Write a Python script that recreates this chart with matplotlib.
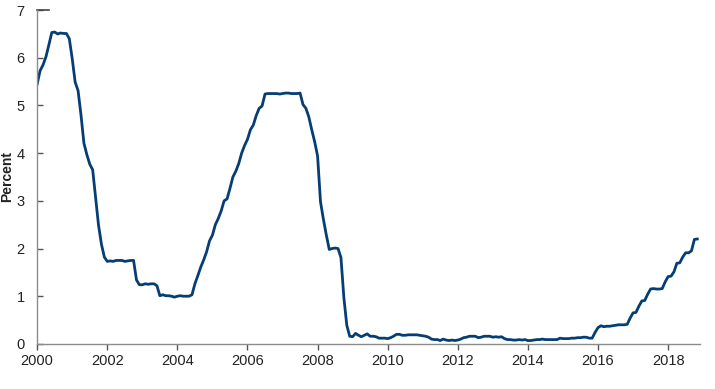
import numpy as np
import matplotlib.pyplot as plt

plt.rcParams['font.family'] = ['Liberation Sans', 'DejaVu Sans']

# Effective federal funds rate, monthly, Jan 2000 - Nov 2018 (percent)
rate_2000 = [5.45, 5.73, 5.85, 6.02, 6.27, 6.53, 6.54, 6.50, 6.52, 6.51, 6.51, 6.40]
rate_2001 = [5.98, 5.49, 5.31, 4.80, 4.21, 3.97, 3.77, 3.65, 3.07, 2.49, 2.09, 1.82]
rate_2002 = [1.73, 1.74, 1.73, 1.75, 1.75, 1.75, 1.73, 1.74, 1.75, 1.75, 1.34, 1.24]
rate_2003 = [1.24, 1.26, 1.25, 1.26, 1.26, 1.22, 1.01, 1.03, 1.01, 1.01, 1.00, 0.98]
rate_2004 = [1.00, 1.01, 1.00, 1.00, 1.00, 1.03, 1.26, 1.43, 1.61, 1.76, 1.93, 2.16]
rate_2005 = [2.28, 2.50, 2.63, 2.79, 3.00, 3.04, 3.26, 3.50, 3.62, 3.78, 4.00, 4.16]
rate_2006 = [4.29, 4.49, 4.59, 4.79, 4.94, 4.99, 5.24, 5.25, 5.25, 5.25, 5.25, 5.24]
rate_2007 = [5.25, 5.26, 5.26, 5.25, 5.25, 5.25, 5.26, 5.02, 4.94, 4.76, 4.49, 4.24]
rate_2008 = [3.94, 2.98, 2.61, 2.28, 1.98, 2.00, 2.01, 2.00, 1.81, 0.97, 0.39, 0.16]
rate_2009 = [0.15, 0.22, 0.18, 0.15, 0.18, 0.21, 0.16, 0.16, 0.15, 0.12, 0.12, 0.12]
rate_2010 = [0.11, 0.13, 0.16, 0.20, 0.20, 0.18, 0.18, 0.19, 0.19, 0.19, 0.19, 0.18]
rate_2011 = [0.17, 0.16, 0.14, 0.10, 0.09, 0.09, 0.07, 0.10, 0.08, 0.07, 0.08, 0.07]
rate_2012 = [0.08, 0.10, 0.13, 0.14, 0.16, 0.16, 0.16, 0.13, 0.14, 0.16, 0.16, 0.16]
rate_2013 = [0.14, 0.15, 0.14, 0.15, 0.11, 0.09, 0.09, 0.08, 0.08, 0.09, 0.08, 0.09]
rate_2014 = [0.07, 0.07, 0.08, 0.09, 0.09, 0.10, 0.09, 0.09, 0.09, 0.09, 0.09, 0.12]
rate_2015 = [0.11, 0.11, 0.11, 0.12, 0.12, 0.13, 0.13, 0.14, 0.14, 0.12, 0.12, 0.24]
rate_2016 = [0.34, 0.38, 0.36, 0.37, 0.37, 0.38, 0.39, 0.40, 0.40, 0.40, 0.41, 0.54]
rate_2017 = [0.65, 0.66, 0.79, 0.90, 0.91, 1.04, 1.15, 1.16, 1.15, 1.15, 1.16, 1.30]
rate_2018 = [1.41, 1.42, 1.51, 1.69, 1.70, 1.82, 1.91, 1.91, 1.95, 2.19, 2.20]

rates = (rate_2000 + rate_2001 + rate_2002 + rate_2003 + rate_2004 + rate_2005
         + rate_2006 + rate_2007 + rate_2008 + rate_2009 + rate_2010 + rate_2011
         + rate_2012 + rate_2013 + rate_2014 + rate_2015 + rate_2016 + rate_2017
         + rate_2018)
dates = 2000 + np.arange(len(rates)) / 12.0

x_ticks = [2000, 2002, 2004, 2006, 2008, 2010, 2012, 2014, 2016, 2018]
y_ticks = [0, 1, 2, 3, 4, 5, 6, 7]

fig = plt.figure(figsize=(7.15, 3.89), dpi=100)
ax = fig.add_axes([0.052, 0.116, 0.927, 0.858])

ax.plot(dates, rates, color='#053d75', linewidth=2.0, solid_joinstyle='round')

ax.set_xlim(2000, 2018.91)
ax.set_ylim(0, 7)
ax.set_xticks(x_ticks)
ax.set_yticks(y_ticks)

for side in ['top', 'right']:
    ax.spines[side].set_visible(False)
for side in ['left', 'bottom']:
    ax.spines[side].set_color('#8c8c8c')
    ax.spines[side].set_linewidth(1.0)

ax.tick_params(axis='x', direction='out', length=4, width=1, color='#555555',
               labelsize=10.5, labelcolor='#222222', pad=3)
ax.tick_params(axis='y', direction='in', length=4, width=1, color='#555555',
               labelsize=10.5, labelcolor='#222222', pad=9)

# petit trait en haut de l'axe y
ax.plot([2000, 2000.33], [7, 7], color='#444444', linewidth=1.2, clip_on=False)

ax.set_ylabel('Percent', fontsize=10, fontweight='bold', color='#222222')
ax.yaxis.set_label_coords(-0.035, 0.5)

fig.savefig('out.png', dpi=100)
